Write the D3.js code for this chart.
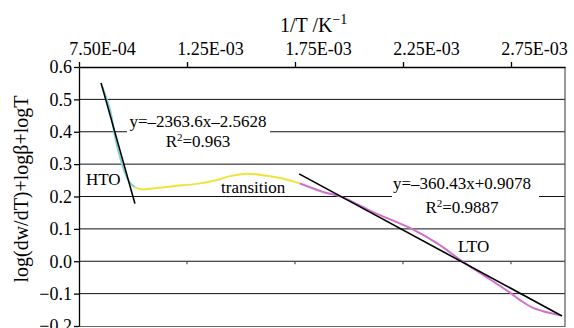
<!DOCTYPE html>
<html><head><meta charset="utf-8">
<script src="https://cdn.jsdelivr.net/npm/d3@7"></script>
<style>
html,body{margin:0;padding:0;background:#fff;}
svg{display:block;}
text{font-family:"Liberation Serif","Times New Roman",serif;fill:#000;}
</style></head>
<body>
<svg id="chart" width="574" height="328"></svg>
<script>
// ---- data ----
const xTickValues = [7.5e-4, 1.25e-3, 1.75e-3, 2.25e-3, 2.75e-3];
const xTickLabels = ["7.50E-04", "1.25E-03", "1.75E-03", "2.25E-03", "2.75E-03"];
const yTickValues = [-0.2, -0.1, 0.0, 0.1, 0.2, 0.3, 0.4, 0.5, 0.6];
const yTickLabels = ["\u22120.2", "\u22120.1", "0.0", "0.1", "0.2", "0.3", "0.4", "0.5", "0.6"];

const htoX = [8.57e-4, 8.94e-4, 9.17e-4, 9.40e-4, 9.63e-4, 9.86e-4, 1.009e-3];
const htoY = [0.540, 0.467, 0.384, 0.322, 0.273, 0.242, 0.229];

const transX = [1.009e-3, 1.017e-3, 1.046e-3, 1.111e-3, 1.185e-3, 1.296e-3, 1.389e-3, 1.449e-3, 1.528e-3, 1.602e-3, 1.681e-3, 1.764e-3, 1.773e-3];
const transY = [0.229, 0.226, 0.222, 0.226, 0.232, 0.239, 0.251, 0.263, 0.270, 0.266, 0.257, 0.242, 0.240];

const ltoX = [1.773e-3, 1.880e-3, 1.968e-3, 2.111e-3, 2.282e-3, 2.407e-3, 2.528e-3, 2.639e-3, 2.745e-3, 2.792e-3, 2.852e-3, 2.931e-3, 2.977e-3];
const ltoY = [0.240, 0.214, 0.198, 0.152, 0.103, 0.056, -0.002, -0.050, -0.097, -0.120, -0.144, -0.160, -0.166];

const htoFitX = [8.52e-4, 1.009e-3];
const htoFitY = [0.551, 0.178];
const ltoFitX = [1.769e-3, 2.986e-3];
const ltoFitY = [0.270, -0.169];

const htoEq = ["y=\u20132363.6x\u20132.5628", "=0.963"];
const ltoEq = ["y=\u2013360.43x+0.9078", "=0.9887"];

// ---- layout ----
const pL = 79, pR = 565, pT = 67, pB = 326;
const svg = d3.select("#chart");
const x = d3.scaleLinear().domain([7.5e-4, 3.0e-3]).range([pL, pR]);
const y = d3.scaleLinear().domain([-0.2, 0.6]).range([pB, pT]);

// gridlines
svg.append("g").selectAll("line").data(yTickValues.filter(v => v > -0.15 && v < 0.55))
  .join("line")
  .attr("x1", pL).attr("x2", pR)
  .attr("y1", d => y(d)).attr("y2", d => y(d))
  .attr("stroke", "#111").attr("stroke-width", 1);

// small ticks on the zero line
svg.append("g").selectAll("line").data(xTickValues.slice(1))
  .join("line")
  .attr("x1", d => x(d)).attr("x2", d => x(d))
  .attr("y1", y(0)).attr("y2", y(0) + 3)
  .attr("stroke", "#333");

// borders (right & bottom)
svg.append("line").attr("x1", pR).attr("x2", pR).attr("y1", pT).attr("y2", pB + 1)
  .attr("stroke", "#555").attr("stroke-width", 1.2);
svg.append("line").attr("x1", pL).attr("x2", pR).attr("y1", pB + 0.5).attr("y2", pB + 0.5)
  .attr("stroke", "#666").attr("stroke-width", 1.2);

// top axis
const xAxis = d3.axisTop(x).tickValues(xTickValues)
  .tickFormat((d, i) => xTickLabels[i]).tickSize(5).tickSizeOuter(0);
const gx = svg.append("g").attr("transform", `translate(0,${pT})`).call(xAxis);
gx.attr("font-family", null);
gx.select(".domain").attr("stroke", "#000").attr("stroke-width", 1.3);
gx.selectAll(".tick line").attr("stroke", "#000").attr("stroke-width", 1.3);
gx.selectAll(".tick text").attr("font-size", 18).attr("dy", 0).attr("y", -12).attr("dx", 23);

// left axis
const yAxis = d3.axisLeft(y).tickValues(yTickValues)
  .tickFormat((d, i) => yTickLabels[i]).tickSize(5).tickSizeOuter(0);
const gy = svg.append("g").attr("transform", `translate(${pL},0)`).call(yAxis);
gy.attr("font-family", null);
gy.select(".domain").attr("stroke", "#000").attr("stroke-width", 1.3);
gy.selectAll(".tick line").attr("stroke", "#000").attr("stroke-width", 1.3);
gy.selectAll(".tick text").attr("font-size", 18).attr("x", -7);

// annotation boxes (white backgrounds)
svg.append("rect").attr("x", 127).attr("y", 112).attr("width", 143).attr("height", 38).attr("fill", "#fff");
svg.append("rect").attr("x", 392).attr("y", 172).attr("width", 147).attr("height", 46).attr("fill", "#fff");

// curves
const line = d3.line().x(d => x(d[0])).y(d => y(d[1])).curve(d3.curveCatmullRom.alpha(0.5));
const zip = (a, b) => a.map((v, i) => [v, b[i]]);
svg.append("path").attr("d", line(zip(htoX, htoY))).attr("fill", "none").attr("stroke", "#80cfd2").attr("stroke-width", 2);
svg.append("path").attr("d", line(zip(transX, transY))).attr("fill", "none").attr("stroke", "#f0e23a").attr("stroke-width", 2);
svg.append("path").attr("d", line(zip(ltoX, ltoY))).attr("fill", "none").attr("stroke", "#cf6fcf").attr("stroke-width", 2);

const straight = d3.line().x(d => x(d[0])).y(d => y(d[1]));
svg.append("path").attr("d", straight(zip(htoFitX, htoFitY))).attr("fill", "none").attr("stroke", "#000").attr("stroke-width", 1.6);
svg.append("path").attr("d", straight(zip(ltoFitX, ltoFitY))).attr("fill", "none").attr("stroke", "#000").attr("stroke-width", 1.6);

// annotation texts
function eq(cx, by1, by2, lines) {
  svg.append("text").attr("x", cx).attr("y", by1).attr("text-anchor", "middle").attr("font-size", 17).text(lines[0]);
  const t = svg.append("text").attr("x", cx).attr("y", by2).attr("text-anchor", "middle").attr("font-size", 17);
  t.append("tspan").text("R");
  t.append("tspan").attr("font-size", 11).attr("dy", -6).text("2");
  t.append("tspan").attr("dy", 6).text(lines[1]);
}
eq(198, 127, 147, htoEq);
eq(462, 189, 213, ltoEq);

svg.append("text").attr("x", 86).attr("y", 185).attr("font-size", 17).text("HTO");
svg.append("text").attr("x", 221).attr("y", 193).attr("font-size", 17).text("transition");
svg.append("text").attr("x", 458).attr("y", 252).attr("font-size", 17).text("LTO");

// axis titles
const tt = svg.append("text").attr("x", 280).attr("y", 32).attr("font-size", 20);
tt.append("tspan").text("1/T /K");
tt.append("tspan").attr("font-size", 14).attr("dy", -8).text("\u22121");

svg.append("text").attr("transform", "translate(28,189) rotate(-90)").attr("text-anchor", "middle")
  .attr("font-size", 20).text("log(dw/dT)+log\u03b2+logT");
</script>
</body></html>
